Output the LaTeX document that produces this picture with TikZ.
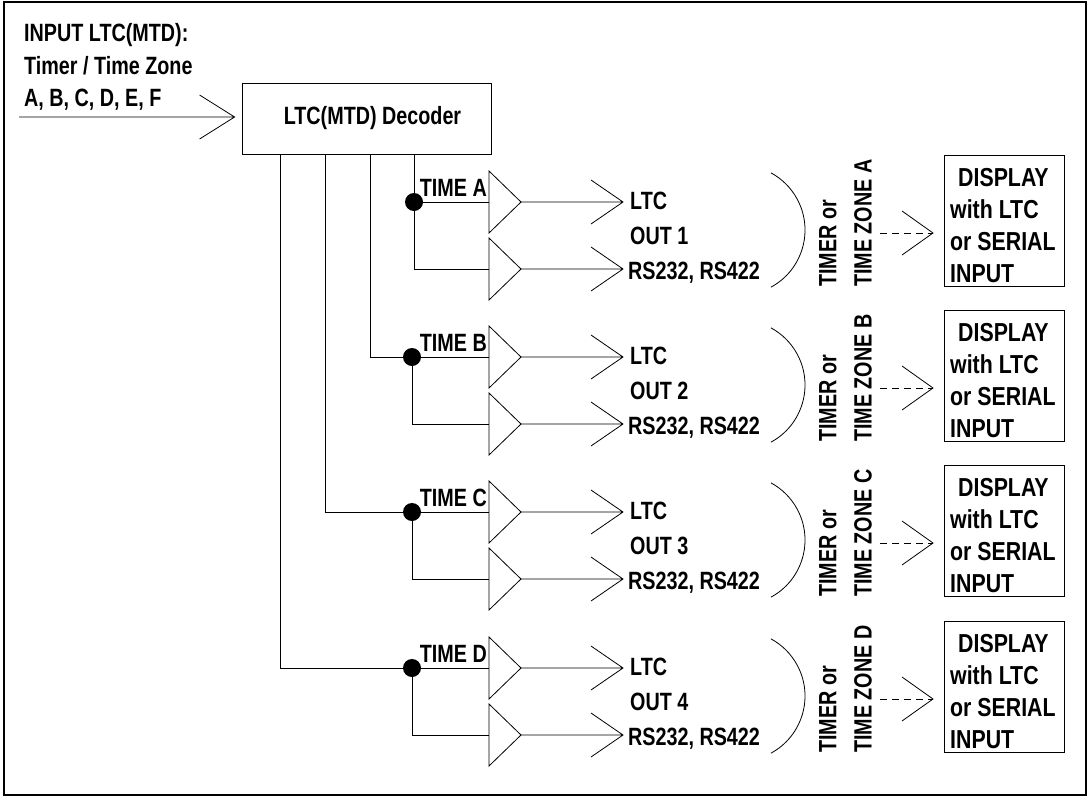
\documentclass[tikz,border=0pt]{standalone}
\usepackage{fontspec}
\setmainfont{Liberation Sans}[FakeStretch=0.79]
\newfontfamily\dispfont{Liberation Sans}[FakeStretch=0.82]
\usetikzlibrary{calc}
\tikzset{
  ln/.style={line width=0.8pt},
  txt/.style={font=\fontsize{25}{29}\selectfont\bfseries, inner sep=0pt},
  disp/.style={font=\dispfont\fontsize{26}{32}\selectfont\bfseries, inner sep=0pt, align=left},
  dispbox/.style={draw, line width=0.8pt, minimum width=120pt, minimum height=131pt, inner sep=0pt},
  jdot/.style={circle, fill, inner sep=0pt, minimum size=18pt},
  decbox/.style={draw, line width=0.8pt, minimum width=249pt, minimum height=71pt}
}
\begin{document}
\begin{tikzpicture}[x=1pt,y=-1pt]
\useasboundingbox (0,0) rectangle (1089,798);
\draw[line width=1.5pt] (4,2) rectangle (1086,795);

\node[txt, anchor=base west] (in1) at (24,41) {INPUT LTC(MTD):};
\node[txt, anchor=base west] (in2) at (24,74) {Timer / Time Zone};
\node[txt, anchor=base west] (in3) at (24,106) {A, B, C, D, E, F};

\node[decbox, txt] (dec) at (366.5,118.5) {\hspace*{12pt}LTC(MTD) Decoder};

\coordinate (inS) at (19,117);
\coordinate (inT) at ($(dec.west)+(-7,-1.5)$);
\draw[ln] (inS) -- (inT) ++(-35,-22) -- (inT) -- ++(-35,22);

\foreach \L/\n/\y/\vx/\dx in {A/1/202/414/414, B/2/357/370/412, C/3/512/325/412, D/4/668/280/412} {
  \coordinate (j\L) at (\vx,\y);
  \coordinate (t\L1) at (489,\y);
  \coordinate (o\L1) at (521,\y);
  \coordinate (t\L2) at (489,\y+67);
  \coordinate (o\L2) at (521,\y+67);
  \coordinate (a\L1) at (623,\y);
  \coordinate (a\L2) at (623,\y+67);
  \draw[ln] (dec.south -| j\L) -- (j\L) -- (t\L1);
  \node[jdot] (dot\L) at (\dx,\y) {};
  \draw[ln] (dot\L.center) -- (dot\L.center |- t\L2) -- (t\L2);
  \draw[ln] (t\L1) ++(0,-31) -- (o\L1) -- ++(-32,31) -- cycle;
  \draw[ln] (t\L2) ++(0,-31) -- (o\L2) -- ++(-32,31) -- cycle;
  \draw[ln] (o\L1) -- (a\L1) ++(-32,-22) -- (a\L1) -- ++(-32,22);
  \draw[ln] (o\L2) -- (a\L2) ++(-32,-22) -- (a\L2) -- ++(-32,22);
  \node[txt, anchor=base east] (lab\L) at (487,\y-6) {TIME \L};
  \node[txt, anchor=base west] (ltc\L) at (630,\y+7) {LTC};
  \node[txt, anchor=base west] (out\L) at (630,\y+42) {OUT \n};
  \node[txt, anchor=base west] (rs\L) at (628,\y+77) {RS232, RS422};
  \coordinate (c\L) at (740,\y+28);
  \draw[ln] (c\L) ++(61.6:65) arc[start angle=61.6, end angle=-61.6, radius=65];
  \node[txt, rotate=90, anchor=west] (tm\L) at (828,\y+85) {TIMER or};
  \node[txt, rotate=90, anchor=west] (tz\L) at (863,\y+85) {TIME ZONE \L};
  \coordinate (ds\L) at (880,\y+31);
  \coordinate (dt\L) at (933,\y+31);
  \draw[ln, dash pattern=on 7pt off 5pt] (ds\L) -- (dt\L);
  \draw[ln] (dt\L) ++(-31,-22) -- (dt\L) -- ++(-31,22);
  \node[dispbox] (box\L) at (1004,\y+18.5) {};
  \node[disp, anchor=west] (dtx\L) at (950,\y+23.5) {\hspace*{8pt}DISPLAY\\with LTC\\or SERIAL\\INPUT};
}
\end{tikzpicture}
\end{document}
